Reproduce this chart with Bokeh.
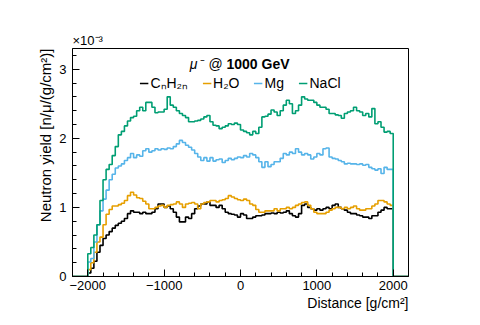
import numpy as np
from bokeh.plotting import figure
from bokeh.models import Label, Legend, LegendItem, SingleIntervalTicker, Range1d, Title
from bokeh.embed import file_html
from bokeh.resources import INLINE

# ---- data (neutron yield in units of 1e-3 n/mu/(g/cm^2)), 100 bins from -2000 to 2000 g/cm^2 ----
bin_lo = -2000
bin_hi = 2000
n_bins = 100

series_names = ["CₙH₂ₙ", "H₂O", "Mg", "NaCl"]
series_colors = ["#000000", "#E69F00", "#56B4E9", "#009E73"]

cnh2n = [0.05, 0.12, 0.22, 0.35, 0.45, 0.55, 0.60, 0.65, 0.70, 0.74,
         0.77, 0.80, 0.84, 0.91, 0.95, 0.93, 0.93, 0.91, 0.93, 0.91,
         0.91, 0.93, 0.98, 1.05, 1.05, 1.00, 1.02, 0.98, 0.93, 0.86,
         0.79, 0.79, 0.86, 0.84, 0.91, 0.98, 1.02, 1.05, 1.05, 1.08,
         1.03, 1.03, 1.00, 1.03, 0.98, 0.93, 0.91, 0.90, 0.89, 0.86,
         0.91, 0.89, 0.84, 0.84, 0.86, 0.88, 0.88, 0.89, 0.91, 0.91,
         0.92, 0.91, 0.93, 0.92, 0.93, 0.95, 0.91, 0.88, 0.86, 0.91,
         1.03, 1.05, 1.00, 0.98, 0.96, 0.98, 0.96, 0.98, 1.00, 0.98,
         1.03, 1.05, 1.00, 0.98, 0.96, 0.93, 0.91, 0.91, 0.89, 0.88,
         0.86, 0.86, 0.84, 0.88, 0.88, 0.93, 0.96, 1.00, 0.98, 0.98]

h2o = [0.10, 0.20, 0.35, 0.50, 0.57, 0.75, 0.90, 0.97, 1.02, 1.02,
       1.04, 1.06, 1.10, 1.17, 1.22, 1.18, 1.14, 1.13, 1.09, 1.05,
       0.98, 0.98, 1.00, 1.02, 1.03, 1.00, 1.03, 1.04, 1.05, 1.08,
       1.05, 1.00, 1.05, 1.06, 1.07, 1.05, 0.98, 1.05, 1.07, 1.08,
       1.10, 1.10, 1.08, 1.10, 1.11, 1.13, 1.17, 1.15, 1.13, 1.11,
       1.10, 1.12, 1.10, 1.05, 1.03, 0.97, 0.93, 0.93, 0.95, 0.95,
       0.95, 0.98, 0.95, 0.98, 0.98, 1.00, 0.98, 1.00, 1.03, 1.05,
       1.07, 1.08, 1.03, 0.98, 0.93, 0.91, 0.91, 0.91, 0.93, 0.96,
       0.98, 1.00, 1.00, 0.98, 1.00, 0.98, 1.00, 1.02, 0.98, 0.96,
       0.96, 0.98, 0.98, 1.02, 1.05, 1.10, 1.10, 1.08, 1.05, 1.03]

mg = [0.21, 0.26, 0.50, 0.75, 0.95, 1.12, 1.25, 1.40, 1.48, 1.57,
      1.60, 1.63, 1.68, 1.72, 1.78, 1.72, 1.76, 1.74, 1.82, 1.85,
      1.80, 1.82, 1.85, 1.83, 1.85, 1.84, 1.86, 1.85, 1.88, 1.92,
      1.97, 1.94, 1.90, 1.87, 1.83, 1.78, 1.73, 1.68, 1.72, 1.67,
      1.72, 1.67, 1.69, 1.70, 1.65, 1.68, 1.71, 1.69, 1.71, 1.73,
      1.72, 1.75, 1.73, 1.78, 1.76, 1.72, 1.66, 1.58, 1.66, 1.59,
      1.62, 1.66, 1.66, 1.71, 1.78, 1.76, 1.80, 1.78, 1.85, 1.80,
      1.76, 1.78, 1.76, 1.70, 1.73, 1.78, 1.76, 1.85, 1.86, 1.73,
      1.71, 1.70, 1.68, 1.66, 1.63, 1.64, 1.63, 1.63, 1.62, 1.63,
      1.61, 1.62, 1.58, 1.56, 1.54, 1.56, 1.49, 1.58, 1.55, 1.55]

nacl = [0.33, 0.42, 0.60, 0.75, 1.10, 1.40, 1.55, 1.62, 1.75, 1.88,
        2.05, 2.10, 2.18, 2.25, 2.30, 2.32, 2.40, 2.45, 2.40, 2.52,
        2.52, 2.45, 2.37, 2.38, 2.38, 2.42, 2.60, 2.48, 2.45, 2.40,
        2.36, 2.33, 2.30, 2.24, 2.24, 2.25, 2.26, 2.28, 2.31, 2.33,
        2.24, 2.19, 2.18, 2.14, 2.16, 2.18, 2.21, 2.20, 2.22, 2.20,
        2.12, 2.10, 2.08, 2.05, 2.10, 2.07, 2.16, 2.31, 2.32, 2.35,
        2.41, 2.38, 2.33, 2.40, 2.48, 2.55, 2.50, 2.36, 2.40, 2.48,
        2.60, 2.57, 2.55, 2.55, 2.52, 2.48, 2.45, 2.45, 2.42, 2.36,
        2.36, 2.34, 2.33, 2.29, 2.36, 2.38, 2.40, 2.45, 2.40, 2.38,
        2.33, 2.36, 2.31, 2.43, 2.21, 2.24, 2.16, 2.09, 2.10, 2.07]

x_ticks = [-2000, -1000, 0, 1000, 2000]
x_tick_labels = ["−2000", "−1000", "0", "1000", "2000"]

x_lo, x_hi = -2200, 2200
y_lo, y_hi = 0, 3.3

FONT = "Liberation Sans"

p = figure(width=480, height=325, output_backend="svg", toolbar_location=None,
           x_range=Range1d(x_lo, x_hi), y_range=Range1d(y_lo, y_hi),
           min_border_left=72, min_border_right=72, min_border_top=48, min_border_bottom=49)
p.xgrid.visible = False
p.ygrid.visible = False
p.outline_line_color = "black"
p.outline_line_width = 1
p.background_fill_color = "white"
p.border_fill_color = "white"

edges = np.linspace(bin_lo, bin_hi, n_bins + 1)
xs = np.concatenate([[x_lo], edges, [x_hi]])

items = []
for name, col, vals in zip(series_names, series_colors, [cnh2n, h2o, mg, nacl]):
    ys = np.concatenate([[0.0], np.asarray(vals, dtype=float), [0.0, 0.0]])
    r = p.step(xs, ys, mode="after", line_color=col, line_width=1.6)
    items.append(LegendItem(label=name, renderers=[r]))

legend = Legend(items=items, orientation="horizontal", location="top_center",
                border_line_color=None, background_fill_alpha=0,
                glyph_width=9, glyph_height=14, label_height=14, label_standoff=2,
                spacing=14, padding=0, margin=25,
                label_text_font=FONT, label_text_font_size="14px", label_text_color="black")
p.add_layout(legend, "center")

# axes
for ax in (p.xaxis, p.yaxis):
    ax.axis_line_color = "black"
    ax.major_tick_line_color = "black"
    ax.minor_tick_line_color = "black"
    ax.major_tick_in = 7
    ax.major_tick_out = 0
    ax.minor_tick_in = 4
    ax.minor_tick_out = 0
    ax.major_label_text_font = FONT
    ax.major_label_text_font_size = "13px"
    ax.major_label_text_color = "black"

p.xaxis.ticker = SingleIntervalTicker(interval=1000, num_minor_ticks=5)
p.xaxis.major_label_overrides = {t: lab for t, lab in zip(x_ticks, x_tick_labels)}
p.xaxis.major_label_standoff = 4
p.yaxis.ticker = SingleIntervalTicker(interval=1, num_minor_ticks=5)
p.yaxis.major_label_standoff = 6

# axis titles (outside the frame) as side-panel titles
p.title.text = "×10⁻³"
p.title.align = "left"
p.title.text_font = FONT
p.title.text_font_size = "13px"
p.title.text_font_style = "normal"
p.title.text_color = "black"
p.title.standoff = 1

p.add_layout(Title(text="Distance [g/cm²]", align="right", standoff=0, text_color="black",
                   text_font=FONT, text_font_size="14px", text_font_style="normal"), "below")
p.add_layout(Title(text="Neutron yield [n/μ/(g/cm²)]", align="right", standoff=6, text_color="black",
                   text_font=FONT, text_font_size="15px", text_font_style="normal"), "left")

# plot title inside frame
p.add_layout(Label(x=0, y=y_hi, x_offset=-38, y_offset=-15, text="μ⁻",
                   text_align="right", text_baseline="middle", text_font_style="italic",
                   text_font=FONT, text_font_size="14px", text_color="black"))
p.add_layout(Label(x=0, y=y_hi, x_offset=-25, y_offset=-15, text="@",
                   text_align="center", text_baseline="middle",
                   text_font=FONT, text_font_size="14px", text_color="black"))
p.add_layout(Label(x=0, y=y_hi, x_offset=-14, y_offset=-15, text="1000 GeV",
                   text_align="left", text_baseline="middle", text_font_style="bold",
                   text_font=FONT, text_font_size="14px", text_color="black"))

open("out.html", "w").write(file_html(p, INLINE))
